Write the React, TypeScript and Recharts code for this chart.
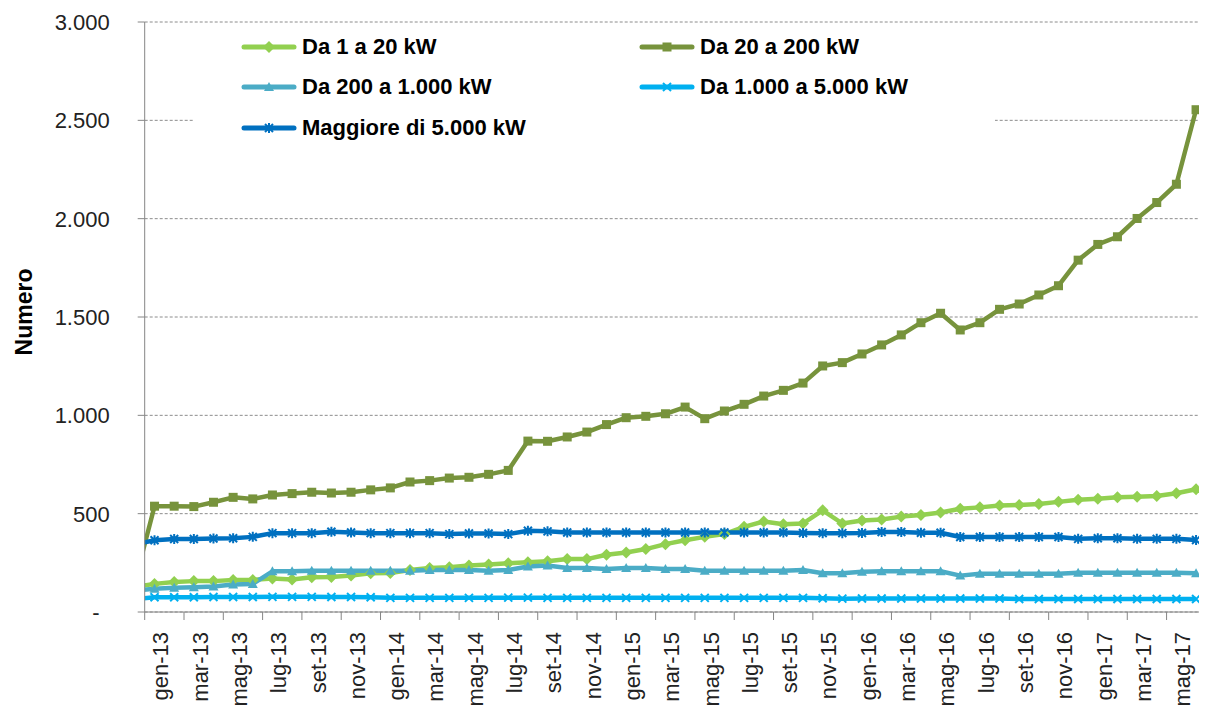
import React from "react";
import { LineChart, Line, XAxis, YAxis, CartesianGrid, Legend } from "recharts";

// months (first one only shows as the clipped segment at the axis)
const months = [
  "dic-12",
  "gen-13", "feb-13", "mar-13", "apr-13", "mag-13", "giu-13", "lug-13", "ago-13", "set-13", "ott-13", "nov-13", "dic-13",
  "gen-14", "feb-14", "mar-14", "apr-14", "mag-14", "giu-14", "lug-14", "ago-14", "set-14", "ott-14", "nov-14", "dic-14",
  "gen-15", "feb-15", "mar-15", "apr-15", "mag-15", "giu-15", "lug-15", "ago-15", "set-15", "ott-15", "nov-15", "dic-15",
  "gen-16", "feb-16", "mar-16", "apr-16", "mag-16", "giu-16", "lug-16", "ago-16", "set-16", "ott-16", "nov-16", "dic-16",
  "gen-17", "feb-17", "mar-17", "apr-17", "mag-17", "giu-17",
];

const da1a20 = [
  127,
  143, 152, 157, 157, 163, 163, 170, 165, 177, 178, 185, 197,
  198, 214, 224, 227, 236, 241, 248, 253, 258, 269, 269, 291,
  303, 320, 345, 365, 382, 396, 433, 460, 446, 450, 517, 450,
  465, 470, 485, 493, 506, 525, 532, 542, 544, 549, 560, 571,
  576, 583, 586, 590, 604, 624,
];

const da20a200 = [
  152,
  538, 538, 536, 558, 583, 575, 595, 602, 609, 605, 609, 621,
  631, 661, 668, 681, 685, 700, 720, 869, 868, 890, 915, 953,
  988, 995, 1008, 1042, 983, 1022, 1056, 1098, 1127, 1164, 1251, 1268,
  1312, 1358, 1409, 1471, 1519, 1434, 1471, 1539, 1566, 1612, 1659, 1789,
  1869, 1908, 2001, 2082, 2175, 2554,
];

const da200a1000 = [
  108,
  118, 123, 126, 130, 140, 143, 207, 207, 210, 210, 210, 210,
  210, 210, 214, 214, 214, 210, 214, 231, 236, 224, 224, 219,
  224, 224, 219, 219, 210, 210, 210, 210, 210, 214, 197, 197,
  205, 207, 207, 207, 207, 185, 194, 194, 194, 194, 194, 200,
  200, 200, 200, 200, 200, 197,
];

const da1000a5000 = [
  66,
  75, 75, 75, 76, 76, 76, 77, 77, 77, 76, 76, 75,
  72, 72, 72, 72, 72, 72, 73, 73, 72, 72, 72, 72,
  72, 72, 72, 72, 72, 72, 72, 72, 72, 72, 70, 68,
  69, 69, 69, 69, 69, 69, 69, 69, 66, 66, 66, 66,
  66, 66, 66, 66, 66, 66,
];

const oltre5000 = [
  343,
  365, 371, 371, 374, 375, 382, 401, 401, 401, 408, 404, 401,
  401, 401, 401, 396, 399, 399, 396, 413, 410, 404, 404, 404,
  404, 404, 404, 404, 404, 404, 404, 404, 404, 402, 401, 401,
  402, 407, 407, 403, 403, 381, 381, 381, 381, 381, 381, 372,
  375, 375, 372, 372, 372, 366,
];

const yTicks = [0, 500, 1000, 1500, 2000, 2500, 3000];

type Shape = "diamond" | "square" | "triangle" | "x" | "star";

const SERIES: { key: string; name: string; color: string; shape: Shape; values: number[] }[] = [
  { key: "s1", name: "Da 1 a 20 kW", color: "#92D050", shape: "diamond", values: da1a20 },
  { key: "s2", name: "Da 20 a 200 kW", color: "#77933C", shape: "square", values: da20a200 },
  { key: "s3", name: "Da 200 a 1.000 kW", color: "#4BACC6", shape: "triangle", values: da200a1000 },
  { key: "s4", name: "Da 1.000 a 5.000 kW", color: "#00B0F0", shape: "x", values: da1000a5000 },
  { key: "s5", name: "Maggiore di 5.000 kW", color: "#0070C0", shape: "star", values: oltre5000 },
];

// idx: gen-13 = 0, dic-12 = -1
const data = months.map((m, i) => {
  const row: Record<string, number | string> = { idx: i - 1, month: m };
  SERIES.forEach((s) => (row[s.key] = s.values[i]));
  return row;
});

// the last ~8px on the right don't make it into the screenshot, keep the plot inside
const W = 1191;
const H = 700;
const YAXIS_W = 136.7;
const X_MIN = -0.5;
const X_MAX = 53.15;
const MONTH_PX = (W - YAXIS_W) / (X_MAX - X_MIN);
const FONT = "'Liberation Sans', Arial, sans-serif";

// tick marks sit on month boundaries, every 2 months
const xTicks = months.slice(1).map((_, i) => i - 0.5).filter((v, i) => i % 2 === 0 && v < 52);

const fmt = (v: number) => String(v).replace(/\B(?=(\d{3})+(?!\d))/g, ".");

function Marker({ shape, cx, cy, color }: { shape: Shape; cx: number; cy: number; color: string }) {
  switch (shape) {
    case "diamond":
      return <polygon points={`${cx},${cy - 6} ${cx + 6},${cy} ${cx},${cy + 6} ${cx - 6},${cy}`} fill={color} />;
    case "square":
      return <rect x={cx - 4.5} y={cy - 4.5} width={9} height={9} fill={color} />;
    case "triangle":
      return <polygon points={`${cx},${cy - 5} ${cx + 5},${cy + 4} ${cx - 5},${cy + 4}`} fill={color} />;
    case "x":
      return (
        <path d={`M${cx - 4},${cy - 4}L${cx + 4},${cy + 4}M${cx - 4},${cy + 4}L${cx + 4},${cy - 4}`} stroke={color} strokeWidth={2} />
      );
    default:
      return (
        <path
          d={`M${cx - 4},${cy - 4}L${cx + 4},${cy + 4}M${cx - 4},${cy + 4}L${cx + 4},${cy - 4}M${cx},${cy - 5}L${cx},${cy + 5}`}
          stroke={color}
          strokeWidth={2}
        />
      );
  }
}

const XTick = (props: any) => {
  const { x, y, payload } = props;
  const label = months[payload.value + 1.5];
  return (
    <text
      x={x}
      y={y}
      dy={MONTH_PX + 4}
      transform={`rotate(-90 ${x} ${y})`}
      textAnchor="end"
      fontSize={22}
      fontFamily={FONT}
      fill="#222"
    >
      {label}
    </text>
  );
};

const YTick = (props: any) => {
  const { x, y, payload } = props;
  const v = payload.value as number;
  return (
    <text x={v === 0 ? x - 10 : x} y={y} dy="0.36em" textAnchor="end" fontSize={22} fontFamily={FONT} fill="#222">
      {v === 0 ? "-" : fmt(v)}
    </text>
  );
};

const renderLegend = () => (
  <div style={{ position: "relative", width: "100%", height: "100%", fontFamily: FONT }}>
    {SERIES.map((s, i) => {
      const col = i % 2;
      const row = Math.floor(i / 2);
      return (
        <div
          key={s.key}
          style={{
            position: "absolute",
            left: col ? 446 : 48,
            top: 21.7 + row * 40.5 - 14,
            height: 28,
            display: "flex",
            alignItems: "center",
            whiteSpace: "nowrap",
          }}
        >
          <svg width={56} height={14} style={{ marginRight: 5 }}>
            <line x1={3} y1={7} x2={53} y2={7} stroke={s.color} strokeWidth={5} strokeLinecap="round" />
            <Marker shape={s.shape} cx={28} cy={7} color={s.color} />
          </svg>
          <span style={{ fontSize: 22, fontWeight: "bold", color: "#000" }}>{s.name}</span>
        </div>
      );
    })}
  </div>
);

export default function App() {
  return (
    <div style={{ width: W, height: H }}>
      <LineChart width={W} height={H} data={data} margin={{ top: 14, right: 0, left: 0, bottom: 0 }}>
        <CartesianGrid vertical={false} stroke="#8c8c8c" strokeDasharray="3 2" />
        <XAxis
          dataKey="idx"
          type="number"
          domain={[X_MIN, X_MAX]}
          allowDataOverflow
          ticks={xTicks}
          interval={0}
          height={96}
          tickSize={8}
          tickMargin={12}
          stroke="#868686"
          tick={<XTick />}
        />
        <YAxis
          domain={[0, 3000]}
          ticks={yTicks}
          interval={0}
          width={YAXIS_W}
          tickSize={7}
          tickMargin={28}
          stroke="#868686"
          tick={<YTick />}
        />
        <text
          x={16}
          y={304}
          transform="rotate(-90 16 304)"
          textAnchor="middle"
          dominantBaseline="central"
          fontSize={23}
          fontWeight="bold"
          fontFamily={FONT}
          fill="#000"
        >
          Numero
        </text>
        <Legend
          verticalAlign="middle"
          align="center"
          layout="horizontal"
          wrapperStyle={{ left: 185, top: 17, width: 802, height: 125, background: "#fff" }}
          content={renderLegend}
        />
        {SERIES.map((s) => (
          <Line
            key={s.key}
            dataKey={s.key}
            name={s.name}
            type="linear"
            stroke={s.color}
            strokeWidth={4.5}
            strokeLinejoin="round"
            isAnimationActive={false}
            dot={(p: any) =>
              p.cx == null || p.cy == null ? (
                <g key={`${s.key}-${p.index}`} />
              ) : (
                <g key={`${s.key}-${p.index}`}>
                  <Marker shape={s.shape} cx={p.cx} cy={p.cy} color={s.color} />
                </g>
              )
            }
          />
        ))}
      </LineChart>
    </div>
  );
}
